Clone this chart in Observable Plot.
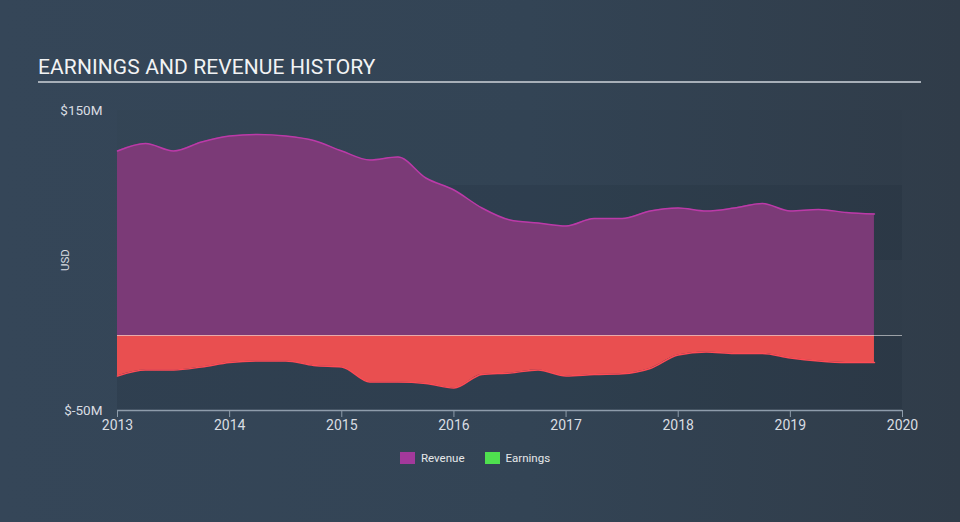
<!DOCTYPE html>
<html>
<head>
<meta charset="utf-8">
<script src="https://cdn.jsdelivr.net/npm/d3@7"></script>
<script src="https://cdn.jsdelivr.net/npm/@observablehq/plot@0.6"></script>
<style>
  html, body { margin: 0; padding: 0; }
  body {
    width: 960px; height: 522px; overflow: hidden;
    background: linear-gradient(to right, #354658 0%, #334455 55%, #303c49 100%);
    font-family: Roboto, "Noto Sans", sans-serif;
  }
  #wrap { position: relative; width: 960px; height: 522px; }
  #title {
    position: absolute; left: 38px; top: 55px;
    font-size: 21px; color: #f2f3f4; letter-spacing: 0.1px; white-space: nowrap;
  }
  #rule {
    position: absolute; left: 38px; top: 81px; width: 883px; height: 2px;
    background: #a7afb8;
  }
  #usd {
    position: absolute; left: 65px; top: 260px;
    transform: translate(-50%, -50%) rotate(-90deg);
    font-size: 11.5px; color: #d9dde2;
  }
  #legend {
    position: absolute; top: 451px; left: 400px; display: flex; align-items: center;
    font-size: 11.5px; color: #e6e8ea;
  }
  .sw { width: 15px; height: 12px; display: inline-block; margin-right: 6px; }
  .item { display: flex; align-items: center; margin-right: 20px; }
  #chart { position: absolute; left: 0; top: 0; }
</style>
</head>
<body>
<div id="wrap">
  <div id="chart"></div>
  <div id="title">EARNINGS AND REVENUE HISTORY</div>
  <div id="rule"></div>
  <div id="usd">USD</div>
  <div id="legend"></div>
</div>
<script>
// ---- data (USD millions, quarterly) ----
const periods = [
  2013.0, 2013.25, 2013.5, 2013.75,
  2014.0, 2014.25, 2014.5, 2014.75,
  2015.0, 2015.25, 2015.5, 2015.75,
  2016.0, 2016.25, 2016.5, 2016.75,
  2017.0, 2017.25, 2017.5, 2017.75,
  2018.0, 2018.25, 2018.5, 2018.75,
  2019.0, 2019.25, 2019.5, 2019.75
];
const revenue = [
  123, 128, 123, 129,
  133, 134, 133, 130,
  123, 117, 119, 105,
  97, 85, 77, 75,
  73, 78, 78, 83,
  85, 83, 85, 88,
  83, 84, 82, 81
];
const earnings = [
  -27, -23, -23, -21,
  -18, -17, -17, -20,
  -21, -31, -31, -32,
  -35, -26, -25, -23,
  -27, -26, -25.5, -22,
  -13, -11, -12, -12,
  -15, -17, -18, -18
];
const xTicks = [2013, 2014, 2015, 2016, 2017, 2018, 2019, 2020];
const yTicks = [-50, 150];
const xDomain = [2013, 2020];
const yDomain = [-50, 150];
const bandLow = [50, -50];
const bandHigh = [100, 0];
const seriesNames = ["Revenue", "Earnings"];
const seriesColors = ["#a3399b", "#4fe04f"];

// ---- build ----
const rows = periods.map((p, i) => ({ p, revenue: revenue[i], earnings: earnings[i] }));
const bands = bandLow.map((lo, i) => ({ lo, hi: bandHigh[i] }));

const axisColor = "#8e9cab";
const textColor = "#d9dde2";

const chart = Plot.plot({
  width: 960,
  height: 522,
  marginLeft: 117,
  marginRight: 58,
  marginTop: 110,
  marginBottom: 112,
  style: { background: "transparent", color: textColor, fontFamily: "Roboto, sans-serif" },
  x: { domain: xDomain },
  y: { domain: yDomain },
  marks: [
    Plot.rect([0], { x1: () => xDomain[0], x2: () => xDomain[1], y1: () => yDomain[0], y2: () => yDomain[1], fill: "#000", fillOpacity: 0.012 }),
    Plot.rect(bands, { x1: () => xDomain[0], x2: () => xDomain[1], y1: "lo", y2: "hi", fill: "#0a1520", fillOpacity: 0.09 }),
    Plot.areaY(rows, { x: "p", y1: 0, y2: "revenue", fill: "#7b3a77", curve: "monotone-x" }),
    Plot.lineY(rows, { x: "p", y: "revenue", stroke: "#bb3aa8", strokeWidth: 1.5, curve: "monotone-x" }),
    Plot.areaY(rows, { x: "p", y1: 0, y2: "earnings", fill: "#e94f50", curve: "monotone-x" }),
    Plot.lineY(rows, { x: "p", y: "earnings", stroke: "#ff4b55", strokeWidth: 1.5, curve: "monotone-x" }),
    Plot.ruleY([0], { stroke: "#e8e8e8", strokeOpacity: 0.6, strokeWidth: 1 }),
    Plot.ruleY([yDomain[0]], { stroke: axisColor, strokeWidth: 1.5 }),
    Plot.axisX({ ticks: xTicks, tickFormat: d => String(d), tickSize: 7, tickPadding: 3, stroke: axisColor, fill: textColor, fontSize: 14, label: null }),
    Plot.axisY({ ticks: yTicks, tickFormat: d => `$${d}M`, tickSize: 0, tickPadding: 15, fill: textColor, fontSize: 13.5, label: null })
  ]
});
document.getElementById("chart").appendChild(chart);

const legend = document.getElementById("legend");
seriesNames.forEach((name, i) => {
  const item = document.createElement("div");
  item.className = "item";
  const sw = document.createElement("span");
  sw.className = "sw";
  sw.style.background = seriesColors[i];
  const t = document.createElement("span");
  t.textContent = name;
  item.appendChild(sw);
  item.appendChild(t);
  legend.appendChild(item);
});
</script>
</body>
</html>
